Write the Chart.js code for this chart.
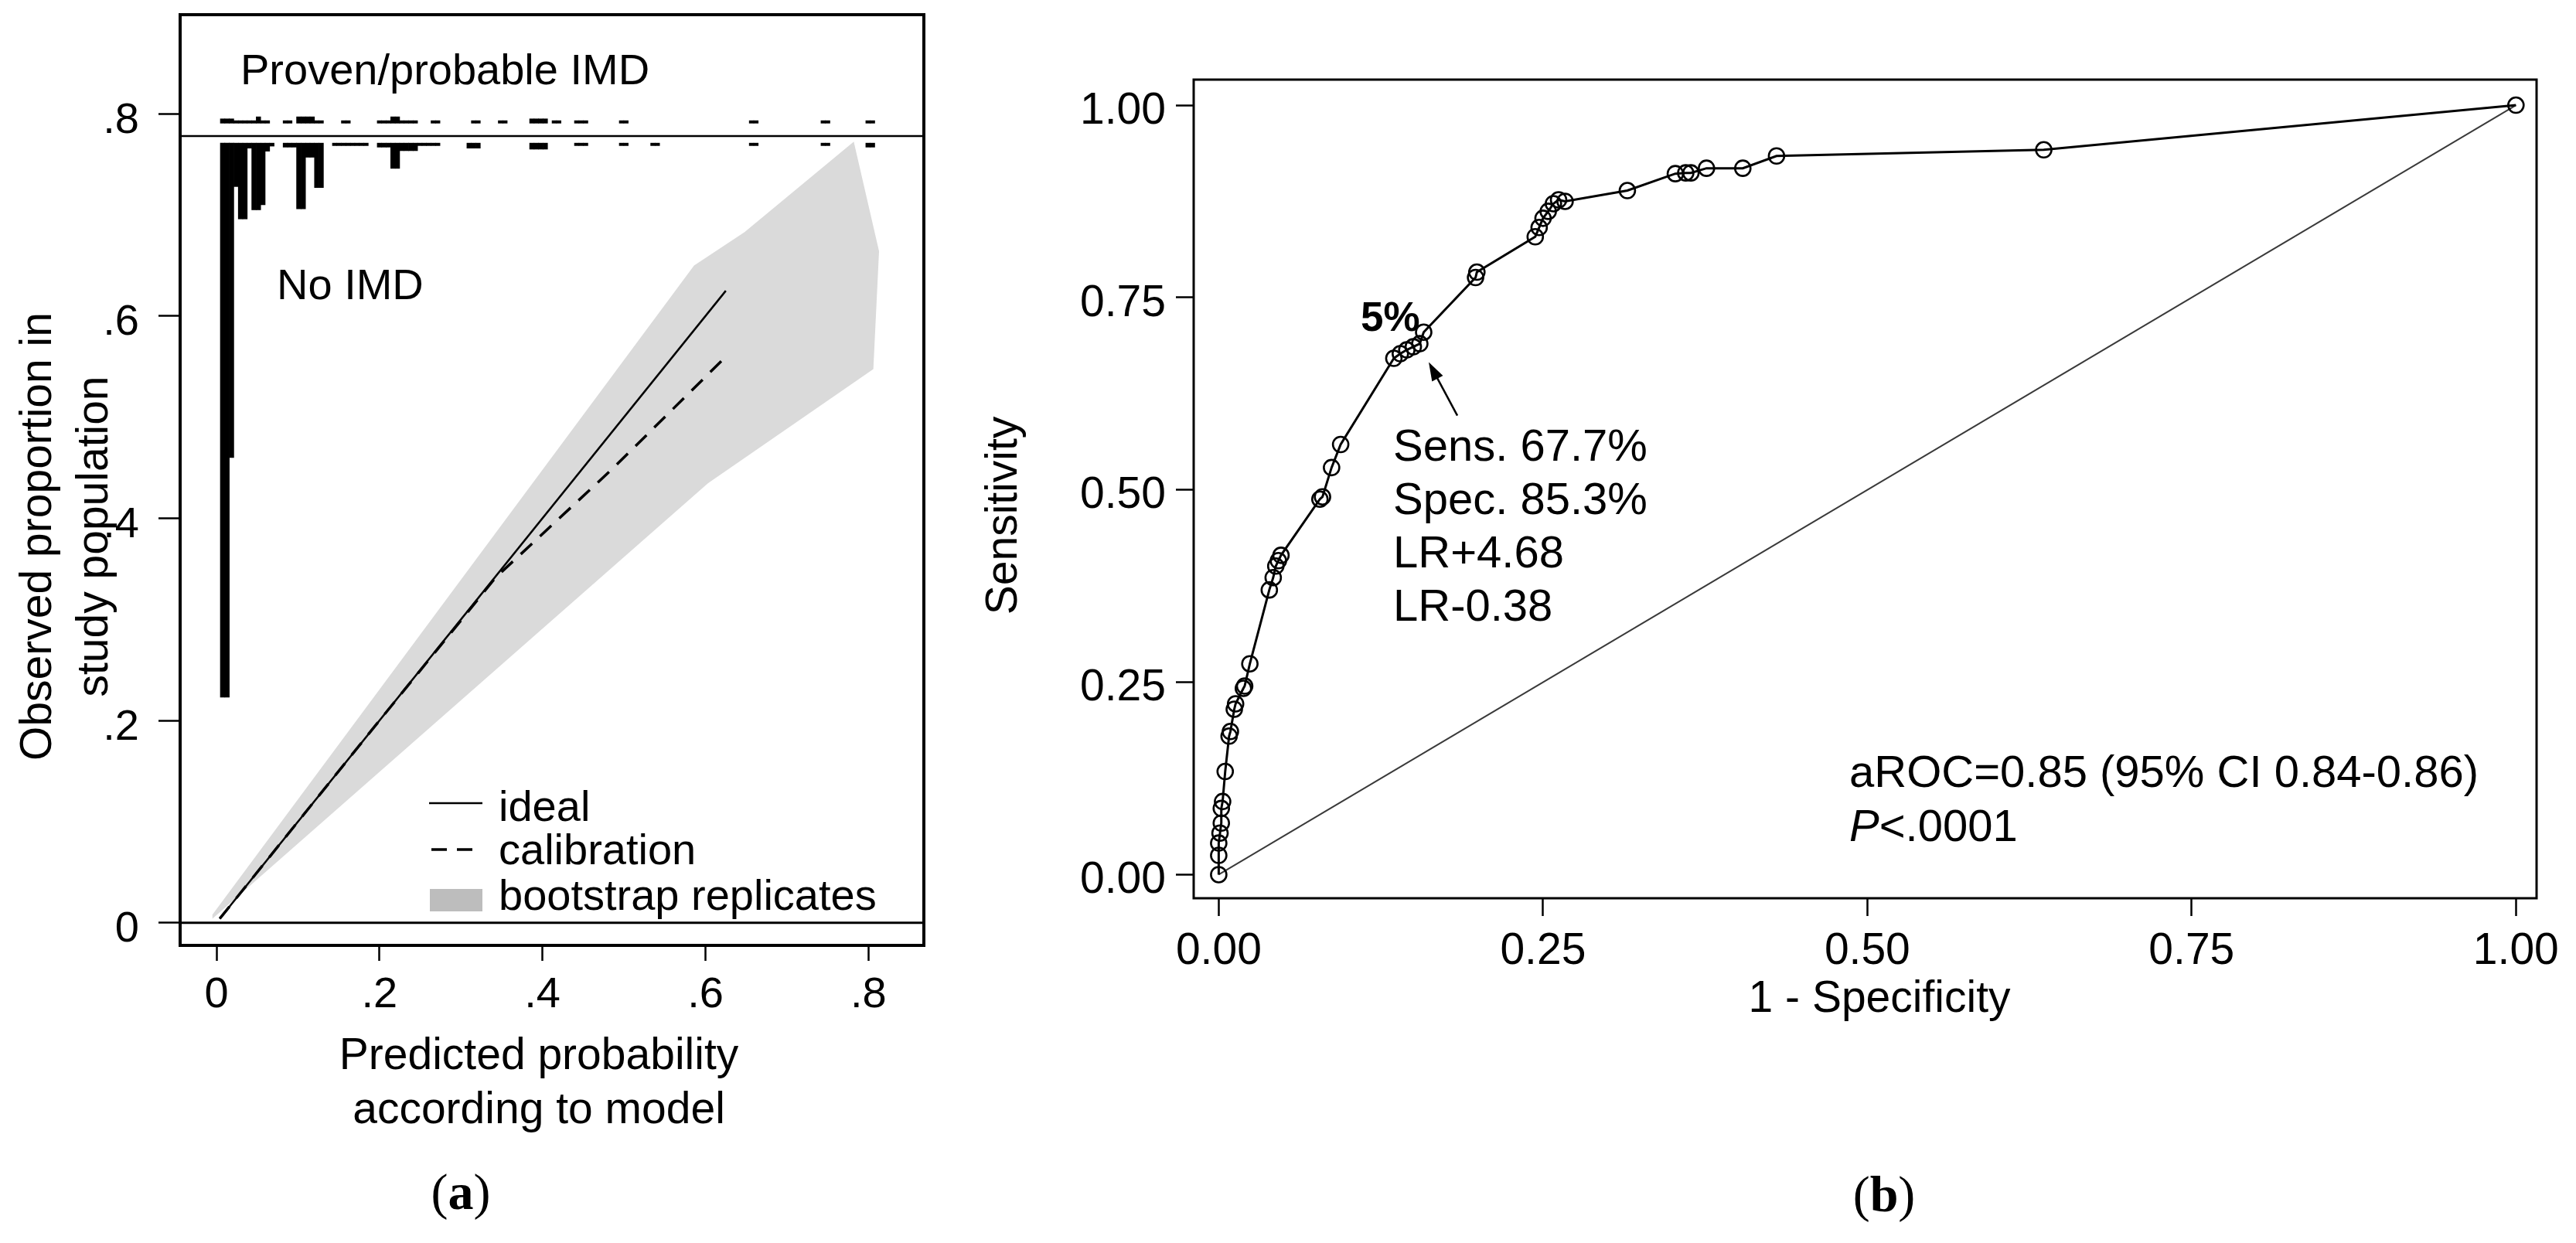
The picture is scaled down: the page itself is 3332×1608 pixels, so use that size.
<!DOCTYPE html>
<html>
<head>
<meta charset="utf-8">
<script src="https://cdn.jsdelivr.net/npm/chart.js@4.4.1/dist/chart.umd.min.js"></script>
<style>
  html, body { margin: 0; padding: 0; background: #fff; }
  body { width: 3332px; height: 1608px; position: relative; overflow: hidden; }
  canvas { position: absolute; top: 0; }
  #calib { left: 0; }
  #roc { left: 1240px; }
</style>
</head>
<body>
<canvas id="calib" width="1240" height="1608"></canvas>
<canvas id="roc" width="2092" height="1608"></canvas>
<script>
// ---- panel (a): calibration plot ----
const calXRange = [-0.0446, 0.868];
const calYRange = [-0.0224, 0.898];
const calTicks = [0, 0.2, 0.4, 0.6, 0.8];
const calTickLabels = ["0", ".2", ".4", ".6", ".8"];

const idealX = [0.004, 0.625];
const idealY = [0.004, 0.625];
const calibX = [0.004, 0.1, 0.2, 0.3, 0.342, 0.386, 0.486, 0.624];
const calibY = [0.004, 0.1, 0.2, 0.299, 0.341, 0.374, 0.449, 0.559];

// bootstrap band outline (upper edge out, lower edge back)
const bandX = [-0.005, 0.586, 0.648, 0.782, 0.813, 0.806, 0.603, -0.005];
const bandY = [0.008, 0.650, 0.683, 0.7725, 0.664, 0.5475, 0.4345, 0.004];

// spike histograms either side of the split line
const splitLine = 0.778;
const noImdTop = 0.771;
const imdBase = 0.7907;
const noImdX = [0.0075, 0.0130, 0.0185, 0.0240, 0.0295, 0.0350, 0.0405, 0.0460, 0.0515, 0.0570,
  0.0625, 0.0680, 0.0845, 0.0900, 0.0955, 0.1010, 0.1065, 0.1120, 0.1175, 0.1230, 0.1285,
  0.1450, 0.1505, 0.1560, 0.1615, 0.1670, 0.1725, 0.1780, 0.1835, 0.2000, 0.2055, 0.2110,
  0.2165, 0.2220, 0.2275, 0.2330, 0.2385, 0.2440, 0.2495, 0.2550, 0.2605, 0.2660, 0.2715,
  0.3100, 0.3155, 0.3210, 0.3870, 0.3925, 0.3980, 0.4035, 0.4420, 0.4475, 0.4530, 0.4970,
  0.5025, 0.5355, 0.5410, 0.6565, 0.6620, 0.7445, 0.7500, 0.7995, 0.8050];
const noImdLow = [0.223, 0.223, 0.460, 0.728, 0.696, 0.696, 0.766, 0.705, 0.705, 0.710,
  0.763, 0.768, 0.767, 0.767, 0.767, 0.706, 0.706, 0.757, 0.757, 0.727, 0.727,
  0.7685, 0.7685, 0.7685, 0.7685, 0.7685, 0.7685, 0.7685, 0.7685, 0.767, 0.767, 0.767,
  0.746, 0.746, 0.7635, 0.7635, 0.7635, 0.7635, 0.7685, 0.7685, 0.7685, 0.7685, 0.7685,
  0.766, 0.766, 0.766, 0.765, 0.765, 0.765, 0.765, 0.7685, 0.7685, 0.7685, 0.7685,
  0.7685, 0.7685, 0.7685, 0.7685, 0.7685, 0.7685, 0.7685, 0.767, 0.767];
const imdX = [0.0075, 0.0130, 0.0185, 0.0240, 0.0295, 0.0350, 0.0405, 0.0460, 0.0515, 0.0570,
  0.0625, 0.0845, 0.0900, 0.1010, 0.1065, 0.1120, 0.1175, 0.1230, 0.1285, 0.1560, 0.1615,
  0.2000, 0.2055, 0.2110, 0.2165, 0.2220, 0.2275, 0.2330, 0.2385, 0.2440, 0.2660, 0.2715,
  0.3155, 0.3210, 0.3485, 0.3540, 0.3870, 0.3925, 0.3980, 0.4035, 0.4145, 0.4200, 0.4420,
  0.4475, 0.4530, 0.4970, 0.5025, 0.6565, 0.6620, 0.7445, 0.7500, 0.7995, 0.8050];
const imdHigh = [0.795, 0.795, 0.795, 0.7932, 0.7932, 0.7932, 0.7932, 0.7932, 0.797, 0.7932,
  0.7932, 0.7932, 0.7932, 0.797, 0.797, 0.797, 0.797, 0.7932, 0.7932, 0.7932, 0.7932,
  0.7932, 0.7932, 0.7932, 0.797, 0.797, 0.7932, 0.7932, 0.7932, 0.7932, 0.7932, 0.7932,
  0.7932, 0.7932, 0.7932, 0.7932, 0.795, 0.795, 0.795, 0.795, 0.7932, 0.7932, 0.7932,
  0.7932, 0.7932, 0.7932, 0.7932, 0.7932, 0.7932, 0.7932, 0.7932, 0.7932, 0.7932];

// ---- panel (b): ROC curve ----
const rocXRange = [-0.0193, 1.0159];
const rocYRange = [-0.0307, 1.0332];
const rocTicks = [0, 0.25, 0.5, 0.75, 1];
const rocTickLabels = ["0.00", "0.25", "0.50", "0.75", "1.00"];
const fpr = [0, 0, 0, 0.001, 0.002, 0.002, 0.003, 0.005, 0.008, 0.009, 0.012, 0.013, 0.019, 0.020,
  0.024, 0.039, 0.042, 0.044, 0.046, 0.048, 0.078, 0.080, 0.087, 0.094, 0.135, 0.140, 0.145,
  0.150, 0.155, 0.158, 0.198, 0.199, 0.244, 0.247, 0.250, 0.254, 0.258, 0.262, 0.267, 0.315,
  0.352, 0.360, 0.364, 0.376, 0.404, 0.430, 0.636, 1];
const tpr = [0, 0.025, 0.041, 0.054, 0.067, 0.086, 0.095, 0.134, 0.180, 0.186, 0.215, 0.222, 0.242,
  0.245, 0.274, 0.370, 0.386, 0.401, 0.408, 0.415, 0.488, 0.491, 0.529, 0.559, 0.671, 0.677,
  0.682, 0.686, 0.690, 0.705, 0.776, 0.783, 0.829, 0.841, 0.853, 0.862, 0.872, 0.877, 0.875,
  0.889, 0.911, 0.912, 0.912, 0.918, 0.918, 0.934, 0.942, 1];
const refX = [0, 1];
const refY = [0, 1];
const cutSens = 0.677;
const cutSpec = 0.853;

const SANS = '"Liberation Sans", Arial, Helvetica, sans-serif';
const SERIF = '"Liberation Serif", "Times New Roman", serif';

Chart.defaults.font.family = SANS;
Chart.defaults.color = "#000";

const pts = (xs, ys) => xs.map((x, i) => ({ x, y: ys[i] }));

function put(ctx, str, x, y, size, o = {}) {
  ctx.save();
  ctx.font = `${o.style || "normal"} ${o.weight || "normal"} ${size}px ${o.family || SANS}`;
  ctx.fillStyle = "#000";
  ctx.textAlign = o.align || "left";
  ctx.textBaseline = o.base || "alphabetic";
  ctx.translate(x, y);
  if (o.rotate) ctx.rotate(o.rotate);
  ctx.fillText(str, 0, 0);
  ctx.restore();
}

function panelLabel(ctx, letter, cx, cy) {
  const reg = `66px ${SERIF}`, bold = `bold 66px ${SERIF}`;
  ctx.save();
  ctx.fillStyle = "#000";
  ctx.textBaseline = "middle";
  ctx.textAlign = "left";
  ctx.font = reg;
  const wp = ctx.measureText("(").width;
  ctx.font = bold;
  const wl = ctx.measureText(letter).width;
  let x = cx - (2 * wp + wl) / 2;
  ctx.font = reg; ctx.fillText("(", x, cy); x += wp;
  ctx.font = bold; ctx.fillText(letter, x, cy); x += wl;
  ctx.font = reg; ctx.fillText(")", x, cy);
  ctx.restore();
}

function axis(range, values, labels, o) {
  return {
    type: "linear", min: range[0], max: range[1], offset: false,
    afterBuildTicks: s => { s.ticks = values.map(v => ({ value: v })); },
    afterFit: s => {
      if (o.width != null) s.width = o.width;
      if (o.height != null) s.height = o.height;
      // labels sit well inside the plot, so no extra room at the ends
      s.paddingTop = s.paddingBottom = s.paddingLeft = s.paddingRight = 0;
    },
    border: { display: false },
    grid: { offset: false, drawOnChartArea: false, drawTicks: true, tickLength: o.tick,
      tickWidth: o.tickWidth, tickColor: "#000" },
    ticks: { autoSkip: false, maxRotation: 0, padding: o.pad, labelOffset: o.offset || 0,
      font: { size: o.size }, color: "#000", callback: (v, i) => labels[i] }
  };
}

const frame = lw => ({
  id: "frame",
  afterDatasetsDraw(chart) {
    const { ctx, chartArea: a } = chart;
    ctx.save();
    ctx.lineWidth = lw;
    ctx.strokeStyle = "#000";
    ctx.strokeRect(a.left, a.top, a.right - a.left, a.bottom - a.top);
    ctx.restore();
  }
});

const baseOptions = {
  responsive: false,
  animation: false,
  events: [],
  plugins: { legend: { display: false }, tooltip: { enabled: false }, title: { display: false } }
};

// panel (a)
const calibText = {
  id: "calibText",
  afterDraw(chart) {
    const ctx = chart.ctx;
    put(ctx, "Proven/probable IMD", 311, 109, 56);
    put(ctx, "No IMD", 358, 387, 56);

    // legend
    ctx.save();
    ctx.strokeStyle = "#000";
    ctx.lineWidth = 2.5;
    ctx.beginPath(); ctx.moveTo(555, 1039); ctx.lineTo(624, 1039); ctx.stroke();
    ctx.lineWidth = 3.5;
    ctx.setLineDash([20, 13]);
    ctx.beginPath(); ctx.moveTo(558, 1099); ctx.lineTo(624, 1099); ctx.stroke();
    ctx.setLineDash([]);
    ctx.fillStyle = "#bdbdbd";
    ctx.fillRect(556, 1150, 68, 29);
    ctx.restore();
    put(ctx, "ideal", 645, 1062, 56);
    put(ctx, "calibration", 645, 1118, 56);
    put(ctx, "bootstrap replicates", 645, 1177, 56);

    // axis titles
    put(ctx, "Observed proportion in", 50, 694, 57, { align: "center", base: "middle", rotate: -Math.PI / 2 });
    put(ctx, "study population", 123, 694, 57, { align: "center", base: "middle", rotate: -Math.PI / 2 });
    put(ctx, "Predicted probability", 697, 1367, 57, { align: "center", base: "middle" });
    put(ctx, "according to model", 697, 1437, 57, { align: "center", base: "middle" });
    panelLabel(ctx, "a", 596, 1547);
  }
};

new Chart(document.getElementById("calib"), {
  type: "scatter",
  data: {
    datasets: [
      { type: "line", data: pts(idealX, idealY), borderColor: "#000", borderWidth: 2.5,
        pointRadius: 0, tension: 0, order: 0 },
      { type: "line", data: pts(calibX, calibY), borderColor: "#000", borderWidth: 3.5,
        borderDash: [20, 14], pointRadius: 0, tension: 0, order: 0 },
      { type: "line", data: pts(calXRange, [0, 0]), borderColor: "#000", borderWidth: 3,
        pointRadius: 0, order: 0 },
      { type: "line", data: pts(calXRange, [splitLine, splitLine]), borderColor: "#000",
        borderWidth: 2.5, pointRadius: 0, order: 0 },
      { type: "bar", data: noImdX.map((x, i) => ({ x, y: [noImdLow[i], noImdTop] })),
        backgroundColor: "#000", borderWidth: 0, grouped: false,
        barPercentage: 1, categoryPercentage: 1, order: 1 },
      { type: "bar", data: imdX.map((x, i) => ({ x, y: [imdBase, imdHigh[i]] })),
        backgroundColor: "#000", borderWidth: 0, grouped: false,
        barPercentage: 1, categoryPercentage: 1, order: 1 },
      { type: "line", data: pts(bandX, bandY), fill: "shape", backgroundColor: "#dadada",
        borderColor: "rgba(0,0,0,0)", borderWidth: 0, pointRadius: 0, tension: 0, order: 5 }
    ]
  },
  options: {
    ...baseOptions,
    layout: { padding: { left: 0, top: 19, right: 45, bottom: 0 } },
    scales: {
      x: axis(calXRange, calTicks, calTickLabels, { height: 385, tick: 20, tickWidth: 2.5, pad: 11, size: 56 }),
      y: axis(calYRange, calTicks, calTickLabels, { width: 233, tick: 28, tickWidth: 2.5, pad: 25, size: 56, offset: 9 })
    }
  },
  plugins: [frame(4), calibText]
});

// panel (b)
const rocText = {
  id: "rocText",
  afterDraw(chart) {
    const ctx = chart.ctx;
    const { x, y } = chart.scales;
    const px = x.getPixelForValue(1 - cutSpec);
    const py = y.getPixelForValue(cutSens);

    // arrow to the 5% cut-off point
    const hx = px + 25, hy = py + 11, tx = px + 62, ty = py + 80;
    const ang = Math.atan2(hy - ty, hx - tx);
    ctx.save();
    ctx.strokeStyle = "#000";
    ctx.fillStyle = "#000";
    ctx.lineWidth = 2.5;
    ctx.beginPath(); ctx.moveTo(tx, ty); ctx.lineTo(hx - 14 * Math.cos(ang), hy - 14 * Math.sin(ang)); ctx.stroke();
    ctx.beginPath();
    ctx.moveTo(hx, hy);
    ctx.lineTo(hx - 24 * Math.cos(ang) + 8 * Math.sin(ang), hy - 24 * Math.sin(ang) - 8 * Math.cos(ang));
    ctx.lineTo(hx - 24 * Math.cos(ang) - 8 * Math.sin(ang), hy - 24 * Math.sin(ang) + 8 * Math.cos(ang));
    ctx.closePath();
    ctx.fill();
    ctx.restore();

    put(ctx, "5%", 520, 428, 53, { weight: "bold" });
    put(ctx, "Sens. 67.7%", 562, 596, 58);
    put(ctx, "Spec. 85.3%", 562, 665, 58);
    put(ctx, "LR+4.68", 562, 734, 58);
    put(ctx, "LR-0.38", 562, 803, 58);

    put(ctx, "aROC=0.85 (95% CI 0.84-0.86)", 1152, 1018, 58);
    put(ctx, "P", 1152, 1088, 58, { style: "italic" });
    ctx.save();
    ctx.font = `italic normal 58px ${SANS}`;
    const wP = ctx.measureText("P").width;
    ctx.restore();
    put(ctx, "<.0001", 1152 + wP, 1088, 58);

    put(ctx, "Sensitivity", 59, 667, 57, { align: "center", base: "middle", rotate: -Math.PI / 2 });
    put(ctx, "1 - Specificity", 1191, 1293, 57, { align: "center", base: "middle" });
    panelLabel(ctx, "b", 1197, 1550);
  }
};

new Chart(document.getElementById("roc"), {
  type: "scatter",
  data: {
    datasets: [
      { type: "line", data: pts(fpr, tpr), borderColor: "#000", borderWidth: 3, tension: 0,
        pointRadius: 10, pointStyle: "circle", pointBorderWidth: 2.6, pointBorderColor: "#000",
        pointBackgroundColor: "rgba(0,0,0,0)", order: 0 },
      { type: "line", data: pts(refX, refY), borderColor: "#3a3a3a", borderWidth: 2,
        pointRadius: 0, tension: 0, order: 1 }
    ]
  },
  options: {
    ...baseOptions,
    layout: { padding: { left: 0, top: 103, right: 51, bottom: 0 } },
    scales: {
      x: axis(rocXRange, rocTicks, rocTickLabels, { height: 446, tick: 23, tickWidth: 2.5, pad: 12, size: 57 }),
      y: axis(rocYRange, rocTicks, rocTickLabels, { width: 304, tick: 23, tickWidth: 2.5, pad: 13, size: 57, offset: 8 })
    }
  },
  plugins: [frame(3), rocText]
});
</script>
</body>
</html>
